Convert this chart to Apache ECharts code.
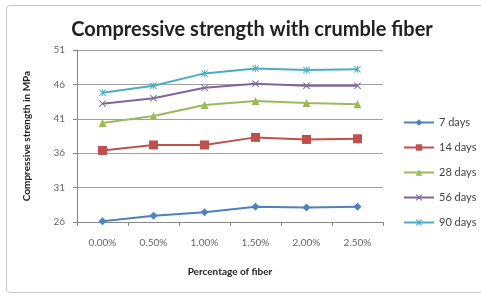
<!DOCTYPE html>
<html>
<head>
<meta charset="utf-8">
<script src="https://cdn.jsdelivr.net/npm/echarts@6/dist/echarts.min.js"></script>
<style>
  html, body { margin: 0; padding: 0; background: #fff; }
  #frame { position: absolute; left: 6px; top: 5px; width: 480px; height: 288px; border: 1px solid #c8c8c8; border-radius: 4px; box-sizing: border-box; }
  #chart { width: 481px; height: 297px; position: absolute; left: 0; top: 0; }
</style>
</head>
<body>
<div id="frame"></div>
<div id="chart"></div>
<script>
// fiber percentages on the x axis
var categories = ['0.00%', '0.50%', '1.00%', '1.50%', '2.00%', '2.50%'];

// compressive strength (MPa) per curing age
var days7  = [26.1, 26.9, 27.4, 28.2, 28.1, 28.2];
var days14 = [36.4, 37.2, 37.2, 38.3, 38.0, 38.1];
var days28 = [40.4, 41.4, 43.0, 43.6, 43.3, 43.1];
var days56 = [43.2, 44.0, 45.5, 46.1, 45.8, 45.8];
var days90 = [44.8, 45.8, 47.6, 48.3, 48.1, 48.2];

var seriesNames = ['7 days', '14 days', '28 days', '56 days', '90 days'];
var yTicks = { min: 26, max: 51, step: 5 };

var colors = ['#4F81BD', '#C0504D', '#9BBB59', '#8064A2', '#4BACC6'];
var symbols = ['diamond', 'rect', 'triangle', 'path://M1,0 L5,4 L9,0 L10,1 L6,5 L10,9 L9,10 L5,6 L1,10 L0,9 L4,5 L0,1 Z', 'path://M1,0 L5,4 L9,0 L10,1 L6,5 L10,9 L9,10 L5,6 L1,10 L0,9 L4,5 L0,1 Z M4.4,0 L5.6,0 L5.6,10 L4.4,10 Z'];
var sizes = [8, 9, 8, 7, 7];

var allData = [days7, days14, days28, days56, days90];

var myChart = echarts.init(document.getElementById('chart'));

var series = allData.map(function (d, i) {
    return {
        name: seriesNames[i],
        type: 'line',
        data: d,
        symbol: symbols[i],
        symbolSize: sizes[i],
        showAllSymbol: true,
        lineStyle: { width: 2, color: colors[i] },
        itemStyle: { color: colors[i] }
    };
});

var option = {
    animation: false,
    color: colors,
    title: {
        text: 'Compressive strength with crumble fiber',
        left: 247,
        textAlign: 'center',
        top: 15,
        textStyle: { fontFamily: 'Lato', fontWeight: 'bold', fontSize: 20, color: '#222' }
    },
    legend: {
        orient: 'vertical',
        left: 398,
        top: 112,
        itemGap: 14,
        itemWidth: 30,
        itemHeight: 8,
        data: seriesNames,
        textStyle: { fontFamily: 'Lato', fontSize: 11, color: '#444' }
    },
    grid: { left: 77, right: 98, top: 50, bottom: 75 },
    xAxis: {
        type: 'category',
        data: categories,
        boundaryGap: true,
        name: 'Percentage of fiber',
        nameLocation: 'middle',
        nameGap: 45,
        nameTextStyle: { fontFamily: 'Lato', fontWeight: 'bold', fontSize: 10, color: '#222' },
        axisLine: { lineStyle: { color: '#888' } },
        axisTick: { show: true, length: 4, lineStyle: { color: '#888' } },
        axisLabel: { fontFamily: 'Lato', fontSize: 10, color: '#666', margin: 16 }
    },
    yAxis: {
        type: 'value',
        min: yTicks.min,
        max: yTicks.max,
        interval: yTicks.step,
        name: 'Compressive strength in MPa',
        nameLocation: 'middle',
        nameGap: 45,
        nameTextStyle: { fontFamily: 'Lato', fontWeight: 'bold', fontSize: 10, color: '#222' },
        axisLine: { show: true, lineStyle: { color: '#888' } },
        axisTick: { show: true, length: 4, lineStyle: { color: '#888' } },
        axisLabel: { fontFamily: 'Lato', fontSize: 10, color: '#666', margin: 12 },
        splitLine: { lineStyle: { color: '#a0a0a0', width: 1 } }
    },
    series: series
};

myChart.setOption(option);
</script>
</body>
</html>
